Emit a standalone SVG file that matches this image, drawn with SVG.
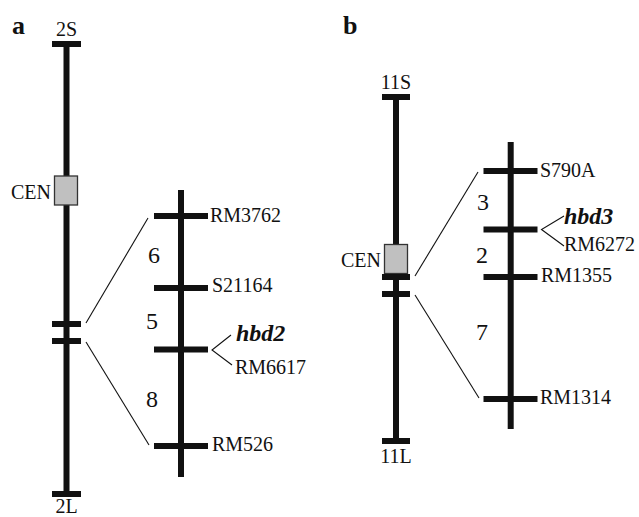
<svg xmlns="http://www.w3.org/2000/svg" width="639" height="517" viewBox="0 0 639 517">
  <style>
    .bar { stroke: #111; stroke-width: 6; fill: none; }
    .tick { stroke: #111; stroke-width: 6; fill: none; }
    .link { stroke: #111; stroke-width: 1.1; fill: none; }
    .cen { fill: #c0c0c0; stroke: #333; stroke-width: 1.3; }
    text { font-family: "Liberation Serif", "Times New Roman", serif; font-size: 20px; fill: #111; }
    .panel { font-weight: bold; font-size: 26px; }
    .gene { font-weight: bold; font-style: italic; font-size: 24px; }
    .dist { font-size: 24px; text-anchor: middle; }
    .mid { text-anchor: middle; }
    .end { text-anchor: end; }
  </style>

  <!-- panel a -->
  <text class="panel" x="12" y="34">a</text>

  <g id="chr2">
    <line class="bar" x1="66.5" y1="44" x2="66.5" y2="494"/>
    <line class="tick" x1="52" y1="44" x2="81" y2="44"/>
    <line class="tick" x1="52" y1="494" x2="81" y2="494"/>
    <line class="tick" x1="52" y1="324" x2="81" y2="324"/>
    <line class="tick" x1="52" y1="341" x2="81" y2="341"/>
    <rect class="cen" x="54.5" y="176" width="23" height="29"/>
    <text class="mid" x="66.5" y="36">2S</text>
    <text class="mid" x="66.5" y="513">2L</text>
    <text class="end" x="51" y="199">CEN</text>
  </g>

  <g id="map2">
    <line class="bar" x1="181" y1="190" x2="181" y2="477"/>
    <line class="tick" x1="154" y1="216" x2="208" y2="216"/>
    <line class="tick" x1="154" y1="288" x2="208" y2="288"/>
    <line class="tick" x1="154" y1="349.5" x2="208" y2="349.5"/>
    <line class="tick" x1="154" y1="446" x2="208" y2="446"/>
    <text x="210" y="222">RM3762</text>
    <text x="212" y="292">S21164</text>
    <text class="gene" x="236" y="341">hbd2</text>
    <text x="235" y="374">RM6617</text>
    <text x="212" y="451">RM526</text>
    <text class="dist" x="154" y="263">6</text>
    <text class="dist" x="152" y="329">5</text>
    <text class="dist" x="152" y="407">8</text>
  </g>

  <!-- panel b -->
  <text class="panel" x="343" y="34">b</text>

  <g id="chr11">
    <line class="bar" x1="396" y1="97" x2="396" y2="441"/>
    <line class="tick" x1="382" y1="97" x2="410" y2="97"/>
    <line class="tick" x1="382" y1="441" x2="410" y2="441"/>
    <rect class="cen" x="384.5" y="244.5" width="23" height="29"/>
    <line class="tick" x1="382" y1="277" x2="410" y2="277"/>
    <line class="tick" x1="382" y1="294" x2="410" y2="294"/>
    <text class="mid" x="396" y="89">11S</text>
    <text class="mid" x="396" y="463">11L</text>
    <text class="end" x="381" y="267">CEN</text>
  </g>

  <g id="map11">
    <line class="bar" x1="510.7" y1="142" x2="510.7" y2="429"/>
    <line class="tick" x1="483.5" y1="171" x2="537.5" y2="171"/>
    <line class="tick" x1="483.5" y1="229.5" x2="537.5" y2="229.5"/>
    <line class="tick" x1="483.5" y1="277" x2="537.5" y2="277"/>
    <line class="tick" x1="483.5" y1="399" x2="537.5" y2="399"/>
    <text x="540" y="177">S790A</text>
    <text class="gene" x="564" y="224">hbd3</text>
    <text x="564" y="251">RM6272</text>
    <text x="541" y="282">RM1355</text>
    <text x="540" y="404">RM1314</text>
    <text class="dist" x="483" y="210">3</text>
    <text class="dist" x="482" y="263">2</text>
    <text class="dist" x="482" y="340">7</text>
  </g>

  <g id="connectors">
    <line class="link" x1="86" y1="323" x2="148" y2="218"/>
    <line class="link" x1="86" y1="342" x2="149" y2="445"/>
    <polyline class="link" points="231,335 212,350 232,365"/>
    <line class="link" x1="415" y1="276" x2="478" y2="172"/>
    <line class="link" x1="415" y1="295" x2="479" y2="398"/>
    <polyline class="link" points="564,216 541.5,229.5 564,246"/>
  </g>
</svg>
